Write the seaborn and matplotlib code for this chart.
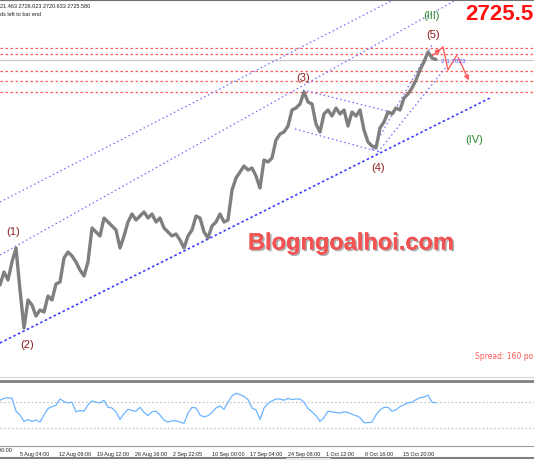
import pandas as pd
import seaborn as sns
import matplotlib.pyplot as plt
import matplotlib.patheffects as pe
from matplotlib.lines import Line2D

# XAUUSD H4 closes, one sample per ~4 px column of the chart
close = [2443.75, 2460, 2450, 2472.5, 2490, 2437.5, 2390, 2425, 2418.75, 2405,
         2412.5, 2410, 2430, 2425, 2445, 2447.5, 2477.5, 2485, 2480, 2472.5,
         2462.5, 2455, 2472.5, 2515, 2510, 2505, 2527.5, 2522.5, 2517.5, 2512.5,
         2490, 2505, 2522.5, 2532.5, 2525, 2530, 2535, 2527.5, 2532.5, 2522.5,
         2527.5, 2515, 2510, 2505, 2507.5, 2500, 2490, 2505, 2512.5, 2530,
         2527.5, 2510, 2502.5, 2517.5, 2522.5, 2532.5, 2522.5, 2525, 2562.5, 2577.5,
         2585, 2592.5, 2587.5, 2590, 2580, 2565, 2600, 2597.5, 2602.5, 2625,
         2632.5, 2635, 2642.5, 2662.5, 2665, 2670, 2685, 2672.5, 2670, 2645,
         2635, 2657.5, 2662.5, 2655, 2665, 2657.5, 2662.5, 2642.5, 2660, 2655,
         2662.5, 2637.5, 2622.5, 2617.5, 2615, 2640, 2647.5, 2660, 2657.5, 2665,
         2662.5, 2677.5, 2682.5, 2690, 2700, 2712.5, 2722.5, 2735, 2727.5, 2725.58]

# oscillator in the lower window (0..100)
osc = [73, 76, 77, 76, 56, 50, 40, 43, 40, 42,
       39, 50, 60, 63, 65, 75, 71, 69, 70, 55,
       57, 56, 66, 72, 70, 69, 73, 62, 61, 55,
       43, 52, 59, 57, 56, 62, 54, 49, 55, 56,
       50, 42, 39, 41, 41, 39, 37, 53, 62, 61,
       50, 47, 49, 54, 61, 64, 59, 70, 80, 84,
       82, 79, 74, 61, 58, 43, 61, 68, 72, 75,
       75, 73, 76, 74, 75, 75, 70, 60, 55, 49,
       40, 46, 56, 55, 54, 53, 55, 54, 51, 49,
       46, 38, 38, 39, 50, 58, 62, 62, 56, 58,
       63, 66, 69, 70, 74, 77, 78, 81, 70, 69]
osc_levels = [70, 30]

tick_pos = [5.1, 14.66, 24.23, 33.79, 43.35, 52.91, 62.48, 72.04, 81.6, 91.16, 100.73]
tick_lbl = ['5 Aug 04:00', '12 Aug 08:00', '19 Aug 12:00', '26 Aug 16:00', '2 Sep 22:05',
            '10 Sep 00:00', '17 Sep 04:00', '24 Sep 08:00', '1 Oct 12:00', '8 Oct 16:00',
            '15 Oct 20:00']

# trend lines: (x pair, price pair)
chan_upper = ([0, 98.25], [2547.5, 2800])
chan_mid = ([0, 114], [2481.25, 2800])
chan_low = ([0, 122.5], [2371.25, 2677.5])
flag_top = ([75.75, 98.75], [2687.5, 2658.75])
flag_bot = ([73.75, 95], [2638.75, 2610])
w5_a = ([93, 108], [2612.5, 2743.75])
w5_b = ([94.5, 111.75], [2610, 2717.5])

red_levels = [2740, 2733.1, 2711.25, 2698.75, 2685]
bid = 2725.58

zig_x = [108, 110.75, 112, 114.25, 117.5]
zig_y = [2730, 2741.25, 2712.5, 2731.25, 2696.25]

wave_txt = ['(1)', '(2)', '(3)', '(4)', '(5)']
wave_x = [3.25, 6.75, 75.75, 94.5, 108.25]
wave_y = [2510, 2368.75, 2702.5, 2590, 2756.25]
big_txt = ['(III)', '(IV)']
big_x = [107.75, 118.5]
big_y = [2780, 2625]

df = pd.DataFrame({'bar': range(len(close)), 'close': close, 'osc': osc})

sns.set_style('white')
plt.rcParams['font.family'] = ['DejaVu Sans']
small = 'Liberation Sans'
fig = plt.figure(figsize=(5.34, 4.62), dpi=100)
H = 462.0
ax = fig.add_axes([0, 1 - 377 / H, 1, 377 / H])
ax2 = fig.add_axes([0, 1 - 446 / H, 1, 65 / H])

# main window
for y in red_levels:
    ax.axhline(y, color='#ff5a5a', lw=0.9, ls=(0, (2, 2)), zorder=1)
ax.axhline(bid, color='#c8c8c8', lw=0.9, zorder=1)

for ln in [chan_upper, chan_mid, flag_top, flag_bot, w5_a, w5_b]:
    ax.plot(ln[0], ln[1], color='#6e6eff', lw=0.9, ls=(0, (1.2, 2.2)), zorder=2)
ax.plot(chan_low[0], chan_low[1], color='#3c3cff', lw=1.2, ls=(0, (1.5, 1.5)), zorder=2)

sns.lineplot(data=df, x='bar', y='close', ax=ax, color='#7f7f7f', lw=2.4, zorder=3)

ax.plot(zig_x[:2], zig_y[:2], color='#ff6060', lw=1)
ax.plot(zig_x[1:4], zig_y[1:4], color='#ff6060', lw=1)
ax.annotate('', xy=(zig_x[1], zig_y[1]), xytext=(zig_x[0], zig_y[0]),
            arrowprops=dict(arrowstyle='-|>', color='#ff6060', lw=1, mutation_scale=7))
ax.annotate('', xy=(zig_x[4], zig_y[4]), xytext=(zig_x[3], zig_y[3]),
            arrowprops=dict(arrowstyle='-|>', color='#ff6060', lw=1, mutation_scale=7))
ax.text(110.3, 2723, '2 1.7823', color='#5a5aff', fontsize=4.5, va='center',
        family=small)

for t, x, y in zip(wave_txt, wave_x, wave_y):
    ax.text(x, y, t, color='#8b2020', fontsize=8, ha='center', va='center',
            family='Liberation Sans')
for t, x, y in zip(big_txt, big_x, big_y):
    ax.text(x, y, t, color='#2a8a2a', fontsize=8, ha='center', va='center',
            family='Liberation Sans')

ax.set_xlim(0, 133.5)
ax.set_ylim(2800 - 377 * 1.25, 2800)
ax.set_xticks([])
ax.set_yticks([])
ax.set_xlabel('')
ax.set_ylabel('')
for s in ['left', 'right']:
    ax.spines[s].set_visible(False)
ax.spines['top'].set_color('#707070')
ax.spines['top'].set_linewidth(1.5)
ax.spines['bottom'].set_color('#d8d8d8')
ax.spines['bottom'].set_linewidth(1)

# indicator window
for y in osc_levels:
    ax2.axhline(y, color='#c0c0c0', lw=0.8, ls=(0, (1.5, 2)))
sns.lineplot(data=df, x='bar', y='osc', ax=ax2, color='#6cb4ff', lw=0.9)
ax2.set_xlim(0, 133.5)
ax2.set_ylim(1.5625, 103.125)
ax2.set_yticks([])
ax2.set_xlabel('')
ax2.set_ylabel('')
ax2.set_xticks(tick_pos)
ax2.set_xticklabels(tick_lbl, fontsize=3.9, ha='left', color='#202020', family=small)
ax2.tick_params(axis='x', length=2, width=0.6, color='#404040', pad=2)
for s in ['left', 'right']:
    ax2.spines[s].set_visible(False)
ax2.spines['top'].set_color('#808080')
ax2.spines['top'].set_linewidth(2)
ax2.spines['bottom'].set_color('#a0a0a0')
ax2.spines['bottom'].set_linewidth(0.8)

# texts on the chart window
fig.text(0.5 / 534, 1 - 6 / H, '21.463 2726.023 2720.633 2725.580', fontsize=4.0,
         color='#202020', va='center', family=small)
fig.text(0.5 / 534, 1 - 15 / H, 'ds left to bar end', fontsize=4.0,
         color='#202020', va='center', family=small)
fig.text(533.5 / 534, 1 - 15 / H, '2725.5', fontsize=16, color='#ff1010',
         weight='bold', family='Liberation Sans', va='center', ha='right')
fig.text(475 / 534, 1 - 356.5 / H, 'Spread: 160 points', fontsize=5.5,
         color='#ff5a5a', va='center')
fig.text(-18 / 534, 1 - 451 / H, '29 Jul 00:00', fontsize=3.9, color='#202020',
         va='center', family=small)
fig.text(248 / 534, 1 - 243 / H, 'Blogngoalhoi.com', fontsize=17,
         color='#f25252', weight='bold', family='Liberation Sans', va='center',
         path_effects=[pe.withSimplePatchShadow(offset=(1.2, -1.2),
                                                shadow_rgbFace='#909090', alpha=0.7),
                       pe.Normal()])

fig.add_artist(Line2D([0, 1], [1 - 458 / H, 1 - 458 / H], color='#808080', lw=1.5))
fig.add_artist(Line2D([287 / 534, 330 / 534], [1 - 458.5 / H, 1 - 458.5 / H],
                      color='#e8e8e8', lw=1.5))

fig.savefig('out.png', dpi=100)
